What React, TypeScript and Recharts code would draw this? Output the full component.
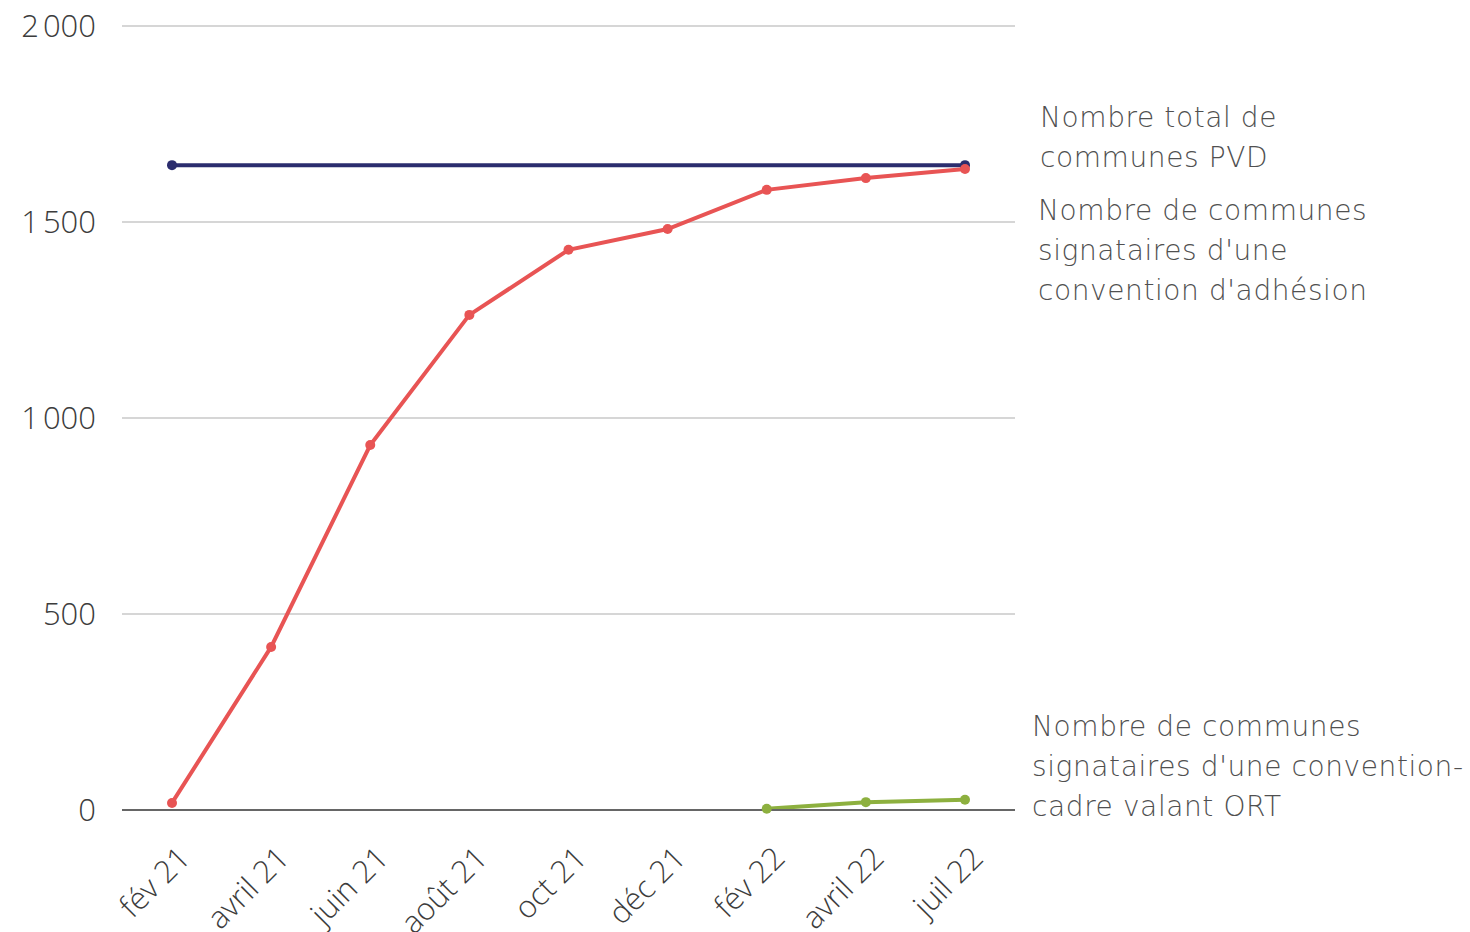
import { CartesianGrid, LabelList, Line, LineChart, XAxis, YAxis } from "recharts";

const months = ["fév 21", "avril 21", "juin 21", "août 21", "oct 21", "déc 21", "fév 22", "avril 22", "juil 22"];
const totalPvd = [1645, null, null, null, null, null, null, null, 1645];
const adhesion = [18, 416, 931, 1263, 1429, 1482, 1582, 1612, 1635];
const ort = [null, null, null, null, null, null, 3, 20, 26];
const yTicks = [0, 500, 1000, 1500, 2000];

const labelTotal = ["Nombre total de", "communes PVD"];
const labelAdhesion = ["Nombre de communes", "signataires d'une", "convention d'adhésion"];
const labelOrt = ["Nombre de communes", "signataires d'une convention-", "cadre valant ORT"];

const data = months.map((month, i) => ({
  month,
  total: totalPvd[i],
  adhesion: adhesion[i],
  ort: ort[i],
}));

const font = "'Open Sans', sans-serif";
const labelFont = "'DejaVu Sans', sans-serif";
const textColor = "#3c3c3c";

const fmt = (v: number) => (v >= 1000 ? `${Math.floor(v / 1000)}\u202F${String(v % 1000).padStart(3, "0")}` : `${v}`);

function MonthTick(props: any) {
  const { x, y, payload } = props;
  const ax = x + 20;
  const ay = y + 42;
  return (
    <text
      x={ax}
      y={ay}
      transform={`rotate(-45 ${ax} ${ay})`}
      textAnchor="end"
      fill={textColor}
      fontFamily={font}
      fontWeight={300}
      fontSize={31}
    >
      {payload.value}
    </text>
  );
}

function endLabel(lines: string[], dx: number, dy: number) {
  return (props: any) => {
    const { x, y, index } = props;
    if (index !== months.length - 1) return null;
    return (
      <text
        x={x + dx}
        y={y + dy}
        fill="#505050"
        fontFamily={labelFont}
        fontWeight={200}
        fontSize={28}
        letterSpacing={0.6}
      >
        {lines.map((l, i) => (
          <tspan key={i} x={x + dx} dy={i === 0 ? 0 : 40}>
            {l}
          </tspan>
        ))}
      </text>
    );
  };
}

export default function App() {
  return (
    <div style={{ position: "absolute", left: 0, top: 0, background: "#fff" }}>
      <LineChart width={1470} height={932} data={data} margin={{ top: 26, right: 455, bottom: 0, left: 0 }}>
        <CartesianGrid vertical={false} stroke="#c8c8c8" strokeWidth={1.5} />
        <XAxis
          dataKey="month"
          height={122}
          padding={{ left: 50, right: 50 }}
          axisLine={{ stroke: "#666", strokeWidth: 2 }}
          tickLine={false}
          interval={0}
          tick={<MonthTick />}
        />
        <YAxis
          width={122}
          domain={[0, 2000]}
          ticks={yTicks}
          tickFormatter={fmt}
          axisLine={false}
          tickLine={false}
          tickSize={0}
          tickMargin={26}
          tick={{ fill: textColor, fontFamily: font, fontWeight: 300, fontSize: 31 }}
        />
        <Line
          dataKey="total"
          stroke="#2b2d6e"
          strokeWidth={4}
          connectNulls
          dot={{ r: 5, fill: "#2b2d6e", stroke: "#2b2d6e", strokeWidth: 0 }}
          isAnimationActive={false}
        >
          <LabelList dataKey="total" content={endLabel(labelTotal, 75, -38)} />
        </Line>
        <Line
          dataKey="adhesion"
          stroke="#e85454"
          strokeWidth={4}
          dot={{ r: 5, fill: "#e85454", stroke: "#e85454", strokeWidth: 0 }}
          isAnimationActive={false}
        >
          <LabelList dataKey="adhesion" content={endLabel(labelAdhesion, 73, 51)} />
        </Line>
        <Line
          dataKey="ort"
          stroke="#8db03f"
          strokeWidth={4}
          dot={{ r: 5, fill: "#8db03f", stroke: "#8db03f", strokeWidth: 0 }}
          isAnimationActive={false}
        >
          <LabelList dataKey="ort" content={endLabel(labelOrt, 67, -64)} />
        </Line>
      </LineChart>
    </div>
  );
}
